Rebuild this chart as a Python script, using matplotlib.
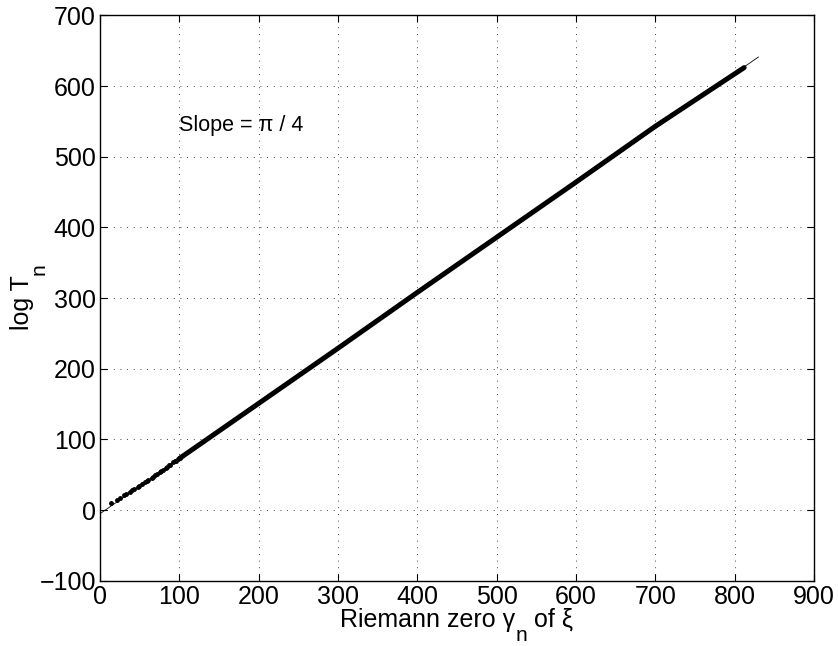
import matplotlib.pyplot as plt
import numpy as np

plt.rcParams['font.family'] = ['Liberation Sans', 'DejaVu Sans']

# first few Riemann zeros (shown as separate dots) and their log T_n
first_zeros = [14.13, 21.02, 25.01, 30.42, 32.94, 37.59, 40.92, 43.33, 48.01, 49.77,
               52.97, 56.45, 59.35, 60.83, 65.11, 67.08, 69.55, 72.07, 75.70, 77.14,
               79.34, 82.91, 84.74, 87.43, 88.81, 92.49, 94.65, 95.87, 98.83, 101.32]
first_logT = [10.5, 15.0, 17.5, 21.0, 22.8, 25.8, 28.0, 29.6, 33.0, 34.2,
              36.6, 39.4, 41.6, 42.8, 46.0, 47.6, 49.5, 51.5, 54.3, 55.4,
              57.2, 60.0, 61.4, 63.5, 64.6, 67.5, 69.2, 70.1, 72.4, 74.4]

# the dense part of the zeros, read along the band
dense_zeros = [100, 200, 300, 400, 500, 600, 700, 812]
dense_logT = [73, 151, 229, 308, 386, 464, 543, 626]

# reference line with slope pi/4
line_x = [0, 830]
line_y = [-5, 641]

W, H = 838, 646
fig = plt.figure(figsize=(W / 100, H / 100), dpi=100)
ax = fig.add_axes([0.1193, 0.1008, 0.852, 0.8755])

ax.plot(line_x, line_y, color='black', lw=0.6)
ax.plot(dense_zeros, dense_logT, color='black', lw=3.6, solid_capstyle='round')
ax.plot(first_zeros, first_logT, '.', color='black', markersize=5)

ax.set_xlim(0, 900)
ax.set_ylim(-100, 700)
ax.set_xticks(np.arange(0, 901, 100))
ax.set_yticks(np.arange(-100, 701, 100))
ax.set_yticklabels([str(v).replace('-', '\u2212') for v in range(-100, 701, 100)])
ax.grid(True, linestyle=(0, (1, 7)), color='black', lw=0.6)
ax.tick_params(direction='in', top=True, right=True, labelsize=18, length=5, width=0.8, pad=3)
for s in ax.spines.values():
    s.set_linewidth(1.0)

# x label, matlab style subscript (dropped well below the baseline)
fs = 18
fs_sub = 15
t1 = fig.text(340 / W, 19 / H, 'Riemann zero γ', fontsize=fs, ha='left', va='baseline')
t2 = ax.annotate('n', xy=(1, 20), xycoords=(t1, 'figure pixels'), fontsize=fs_sub,
                 ha='left', va='top', annotation_clip=False)
ax.annotate(' of ξ', xy=(1, 19), xycoords=(t2, 'figure pixels'), fontsize=fs,
            ha='left', va='baseline', annotation_clip=False)

# y label
y1 = fig.text(29 / W, (H - 330) / H, 'log T', fontsize=fs, rotation=90,
              rotation_mode='anchor', ha='left', va='baseline')
ax.annotate('n', xy=(30, 1), xycoords=('figure pixels', y1), fontsize=fs_sub, rotation=90,
            rotation_mode='anchor', ha='left', va='top', annotation_clip=False)

ax.text(100, 544, 'Slope = π / 4', fontsize=15.5, va='center', ha='left')

fig.savefig('out.png', dpi=100)
